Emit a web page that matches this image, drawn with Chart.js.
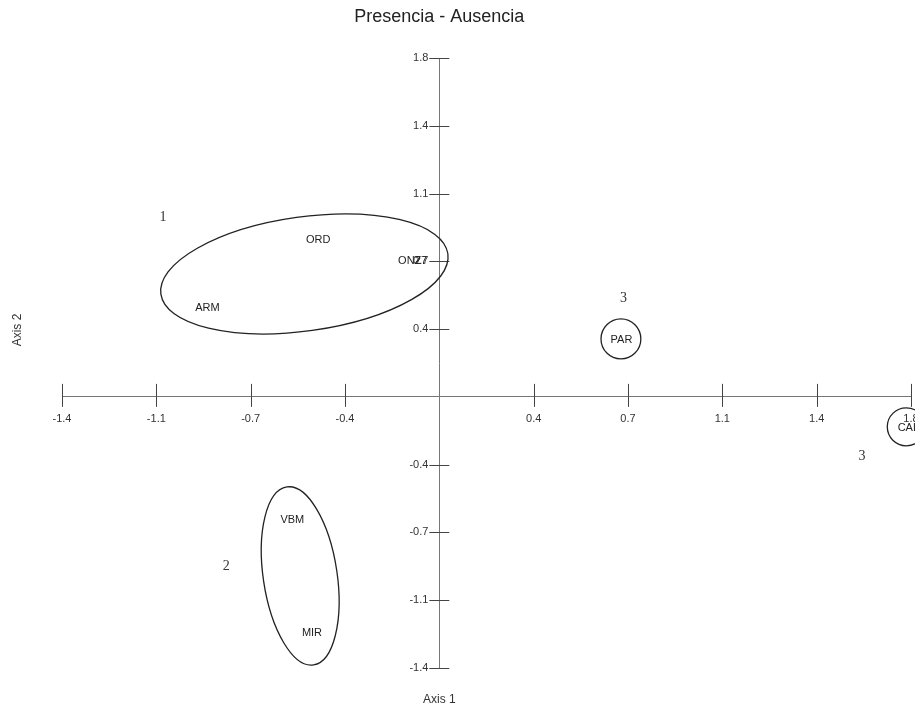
<!DOCTYPE html>
<html>
<head>
<meta charset="utf-8">
<title>Presencia - Ausencia</title>
<script src="https://cdn.jsdelivr.net/npm/chart.js@4.4.1/dist/chart.umd.min.js"></script>
<style>
  html,body{margin:0;padding:0;background:#fff;}
  #wrap{width:915px;height:714px;position:relative;}
</style>
</head>
<body>
<div id="wrap"><canvas id="chart"></canvas></div>
<script>
// Presencia - Ausencia: ordenación de sitios (Axis 1 x Axis 2)
const sites = ["ORD","ONZ","27","ARM","PAR","CAL","VBM","MIR"];
const axis1 = [-0.462,-0.113,-0.07,-0.885,0.695,1.79,-0.561,-0.486];
const axis2 = [0.834,0.724,0.724,0.473,0.303,-0.165,-0.653,-1.253];

// ticks (posición real y etiqueta impresa)
const tickValues = [-1.44,-1.08,-0.72,-0.36,0.36,0.72,1.08,1.44,1.8];
const tickLabels = ["-1.4","-1.1","-0.7","-0.4","0.4","0.7","1.1","1.4","1.8"];

// grupos: número + envolvente (centro, semiejes en unidades de eje, giro en grados)
const groupNames = ["1","2","3","3"];
const groupNameX = [-1.055,-0.813,0.703,1.613];
const groupNameY = [0.956,-0.901,0.524,-0.317];
const hullX = [-0.515,-0.531,0.693,1.782];
const hullY = [0.653,-0.951,0.308,-0.159];
const hullRx = [0.553,0.141,0.076,0.0725];
const hullRy = [0.303,0.478,0.106,0.101];
const hullTilt = [-8,-8.5,0,0];

const SANS = "'Liberation Sans', Arial, sans-serif";
const SERIF = "'Liberation Serif', 'Times New Roman', serif";

const decor = {
  id:"decor",
  afterDraw(chart){
    const ctx = chart.ctx;
    const xs = chart.scales.x, ys = chart.scales.y;
    const x0 = xs.getPixelForValue(0), y0 = ys.getPixelForValue(0);
    ctx.save();

    // título centrado sobre el eje vertical
    ctx.fillStyle = "#222";
    ctx.font = "18px " + SANS;
    ctx.textAlign = "center"; ctx.textBaseline = "middle";
    ctx.fillText("Presencia - Ausencia", x0, 17);

    // marcas de los ticks cruzando los ejes
    ctx.strokeStyle = "#444"; ctx.lineWidth = 1;
    ctx.beginPath();
    xs.ticks.forEach(t=>{
      const px = Math.round(xs.getPixelForValue(t.value)) + 0.5;
      ctx.moveTo(px, y0-13); ctx.lineTo(px, y0+10);
    });
    ys.ticks.forEach(t=>{
      const py = Math.round(ys.getPixelForValue(t.value)) + 0.5;
      ctx.moveTo(x0-10, py); ctx.lineTo(x0+10, py);
    });
    ctx.stroke();

    // envolventes de grupos
    ctx.strokeStyle = "#222"; ctx.lineWidth = 1.3;
    hullX.forEach((hx,i)=>{
      const cx = xs.getPixelForValue(hx), cy = ys.getPixelForValue(hullY[i]);
      const rx = Math.abs(xs.getPixelForValue(hx + hullRx[i]) - cx);
      const ry = Math.abs(ys.getPixelForValue(hullY[i] + hullRy[i]) - cy);
      ctx.beginPath();
      ctx.ellipse(cx, cy, rx, ry, hullTilt[i]*Math.PI/180, 0, Math.PI*2);
      ctx.stroke();
    });

    // números de grupo
    ctx.fillStyle = "#333";
    ctx.font = "14px " + SERIF;
    groupNames.forEach((g,i)=>{
      ctx.fillText(g, xs.getPixelForValue(groupNameX[i]), ys.getPixelForValue(groupNameY[i]));
    });

    // etiquetas de sitios
    ctx.fillStyle = "#222";
    ctx.font = "11px " + SANS;
    chart.getDatasetMeta(0).data.forEach((pt,i)=>{
      ctx.fillText(sites[i], pt.x, pt.y);
    });

    // títulos de ejes
    ctx.fillStyle = "#333";
    ctx.font = "12px " + SANS;
    ctx.fillText("Axis 1", x0, 700);
    ctx.translate(18, 330);
    ctx.rotate(-Math.PI/2);
    ctx.fillText("Axis 2", 0, 0);
    ctx.restore();
  }
};

const tickFont = { family: SANS, size: 11 };

new Chart(document.getElementById("chart"), {
  type:"scatter",
  data:{
    datasets:[{
      label:"Sitios",
      data: sites.map((s,i)=>({ x: axis1[i], y: axis2[i] })),
      pointRadius:0, pointHoverRadius:0, showLine:false
    }]
  },
  options:{
    responsive:true, maintainAspectRatio:false, animation:false,
    layout:{ padding:{ left:62, right:4, top:58, bottom:46 } },
    plugins:{
      legend:{ display:false },
      tooltip:{ enabled:false },
      title:{ display:false }
    },
    scales:{
      x:{
        type:"linear", min:-1.44, max:1.8, position:{ y:0 },
        afterBuildTicks: s => { s.ticks = tickValues.map(v=>({ value:v })); },
        // sin reserva lateral por la última etiqueta (en el original queda cortada)
        afterFit: s => { s.paddingLeft = 0; s.paddingRight = 0; },
        ticks:{ callback:(v,i)=> tickLabels[i], autoSkip:false, maxRotation:0, padding:15, color:"#333", font:tickFont },
        grid:{ display:true, drawOnChartArea:false, drawTicks:false },
        border:{ display:true, color:"#777", width:1 }
      },
      y:{
        type:"linear", min:-1.44, max:1.8, position:{ x:0 },
        afterBuildTicks: s => { s.ticks = tickValues.map(v=>({ value:v })); },
        afterFit: s => { s.paddingTop = 0; s.paddingBottom = 0; },
        // etiquetas a la izquierda de la marca (el eje centrado las pega a la línea)
        ticks:{ callback:(v,i)=> tickLabels[i] + "\u2002\u2002", autoSkip:false, color:"#333", font:tickFont },
        grid:{ display:true, drawOnChartArea:false, drawTicks:false },
        border:{ display:true, color:"#777", width:1 }
      }
    }
  },
  plugins:[decor]
});
</script>
</body>
</html>
